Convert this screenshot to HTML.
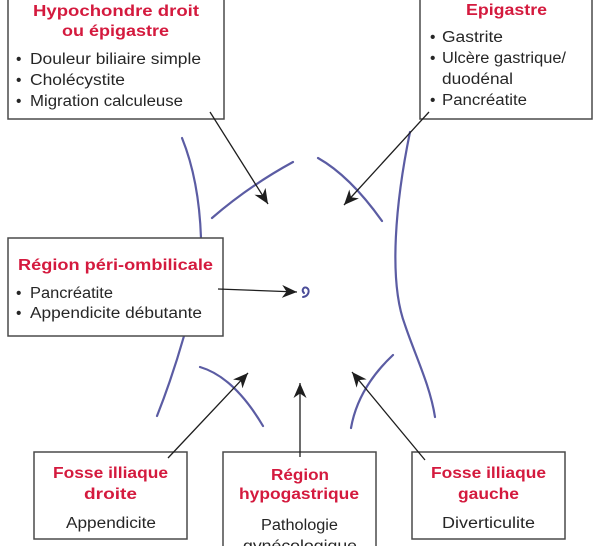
<!DOCTYPE html>
<html>
<head>
<meta charset="utf-8">
<style>
  html, body { margin:0; padding:0; background:#fff; }
  body { width:600px; height:546px; overflow:hidden; }
  svg { display:block; }
  .t { font-family:"Liberation Sans", sans-serif; font-weight:bold; font-size:16px; fill:#d41a3e; }
  .b { font-family:"Liberation Sans", sans-serif; font-size:15.5px; fill:#262626; }
  .box { fill:#fff; stroke:#4a4a4a; stroke-width:1.5; }
  .blue { fill:none; stroke:#5b5ca3; stroke-width:2.2; stroke-linecap:round; }
  .arr { fill:none; stroke:#1e1e1e; stroke-width:1.3; }
</style>
</head>
<body>
<svg width="600" height="546" viewBox="0 0 600 546" xmlns="http://www.w3.org/2000/svg">
  <defs>
    <marker id="ah" markerUnits="userSpaceOnUse" markerWidth="18" markerHeight="16" refX="15" refY="6.5" orient="auto">
      <path d="M0,0 L15,6.5 L0,13 L4.5,6.5 Z" fill="#1e1e1e"/>
    </marker>
  </defs>

  <!-- blue body outline curves -->
  <path class="blue" d="M182,138 Q199,180 201,238"/>
  <path class="blue" d="M184,336 Q172,378 157,416"/>
  <path class="blue" d="M410,132 C396,200 388,280 405,325 C415,355 430,385 435,417"/>
  <path class="blue" d="M212,218 Q249,186 293,162"/>
  <path class="blue" d="M318,158 Q350,176 382,221"/>
  <path class="blue" d="M200,367 Q234,377 263,426"/>
  <path class="blue" d="M393,355 Q358,388 351,428"/>
  <!-- umbilicus -->
  <path d="M304,293 C301,290 304,286 307,288 C310,290 309,296 303,297" fill="none" stroke="#4b4d99" stroke-width="2" stroke-linecap="round"/>

  <!-- boxes -->
  <rect class="box" x="8" y="-5" width="216" height="124"/>
  <rect class="box" x="420" y="-5" width="172" height="124"/>
  <rect class="box" x="8" y="238" width="215" height="98"/>
  <rect class="box" x="34" y="452" width="153" height="87"/>
  <rect class="box" x="223" y="452" width="153" height="110"/>
  <rect class="box" x="412" y="452" width="153" height="87"/>

  <!-- arrows -->
  <line class="arr" x1="210" y1="112" x2="268" y2="204" marker-end="url(#ah)"/>
  <line class="arr" x1="429" y1="112" x2="344" y2="205" marker-end="url(#ah)"/>
  <line class="arr" x1="218" y1="289" x2="297" y2="292" marker-end="url(#ah)"/>
  <line class="arr" x1="168" y1="458" x2="248" y2="373" marker-end="url(#ah)"/>
  <line class="arr" x1="300" y1="457" x2="300" y2="383" marker-end="url(#ah)"/>
  <line class="arr" x1="425" y1="460" x2="352" y2="372" marker-end="url(#ah)"/>

  <!-- Box 1 -->
  <text class="t" x="33" y="16" textLength="166" lengthAdjust="spacingAndGlyphs">Hypochondre droit</text>
  <text class="t" x="62" y="36" textLength="107" lengthAdjust="spacingAndGlyphs">ou épigastre</text>
  <text class="b" x="16" y="64">•</text>
  <text class="b" x="30" y="64" textLength="171" lengthAdjust="spacingAndGlyphs">Douleur biliaire simple</text>
  <text class="b" x="16" y="85">•</text>
  <text class="b" x="30" y="85" textLength="95" lengthAdjust="spacingAndGlyphs">Cholécystite</text>
  <text class="b" x="16" y="106">•</text>
  <text class="b" x="30" y="106" textLength="153" lengthAdjust="spacingAndGlyphs">Migration calculeuse</text>

  <!-- Box 2 -->
  <text class="t" x="466" y="15" textLength="81" lengthAdjust="spacingAndGlyphs">Epigastre</text>
  <text class="b" x="430" y="42">•</text>
  <text class="b" x="442" y="42" textLength="61" lengthAdjust="spacingAndGlyphs">Gastrite</text>
  <text class="b" x="430" y="63">•</text>
  <text class="b" x="442" y="63" textLength="124" lengthAdjust="spacingAndGlyphs">Ulcère gastrique/</text>
  <text class="b" x="442" y="84" textLength="71" lengthAdjust="spacingAndGlyphs">duodénal</text>
  <text class="b" x="430" y="105">•</text>
  <text class="b" x="442" y="105" textLength="85" lengthAdjust="spacingAndGlyphs">Pancréatite</text>

  <!-- Box 3 -->
  <text class="t" x="18" y="270" textLength="195" lengthAdjust="spacingAndGlyphs">Région péri-ombilicale</text>
  <text class="b" x="16" y="298">•</text>
  <text class="b" x="30" y="298" textLength="83" lengthAdjust="spacingAndGlyphs">Pancréatite</text>
  <text class="b" x="16" y="318">•</text>
  <text class="b" x="30" y="318" textLength="172" lengthAdjust="spacingAndGlyphs">Appendicite débutante</text>

  <!-- Box 4 -->
  <text class="t" x="53" y="478" textLength="115" lengthAdjust="spacingAndGlyphs">Fosse illiaque</text>
  <text class="t" x="84" y="499" textLength="53" lengthAdjust="spacingAndGlyphs">droite</text>
  <text class="b" x="66" y="528" textLength="90" lengthAdjust="spacingAndGlyphs">Appendicite</text>

  <!-- Box 5 -->
  <text class="t" x="271" y="480" textLength="58" lengthAdjust="spacingAndGlyphs">Région</text>
  <text class="t" x="239" y="499" textLength="120" lengthAdjust="spacingAndGlyphs">hypogastrique</text>
  <text class="b" x="261" y="530" textLength="77" lengthAdjust="spacingAndGlyphs">Pathologie</text>
  <text class="b" x="243" y="551" textLength="114" lengthAdjust="spacingAndGlyphs">gynécologique</text>

  <!-- Box 6 -->
  <text class="t" x="431" y="478" textLength="115" lengthAdjust="spacingAndGlyphs">Fosse illiaque</text>
  <text class="t" x="458" y="499" textLength="61" lengthAdjust="spacingAndGlyphs">gauche</text>
  <text class="b" x="442" y="528" textLength="93" lengthAdjust="spacingAndGlyphs">Diverticulite</text>
</svg>
</body>
</html>
